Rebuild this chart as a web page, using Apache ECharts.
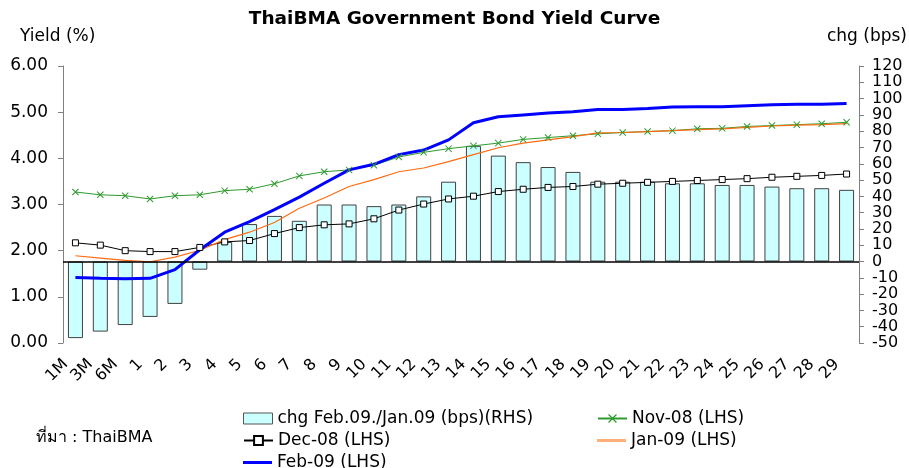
<!DOCTYPE html>
<html>
<head>
<meta charset="utf-8">
<script src="https://cdn.jsdelivr.net/npm/echarts@6/dist/echarts.min.js"></script>
<style>html,body{margin:0;padding:0;background:#fff;}#c{width:909px;height:468px;}</style>
</head>
<body>
<div id="c"></div>
<script>
var categories = ['1M','3M','6M','1','2','3','4','5','6','7','8','9','10','11','12','13','14','15','16','17','18','19','20','21','22','23','24','25','26','27','28','29'];
var chgBps = [-47,-43,-39,-34,-26,-5,12,23,28,25,35,35,34,35,40,49,71,65,61,58,55,49,49,49,48,48,47,47,46,45,45,44];
var nov08 = [3.27,3.21,3.19,3.12,3.19,3.21,3.30,3.33,3.45,3.62,3.71,3.75,3.85,4.03,4.13,4.21,4.27,4.33,4.41,4.45,4.49,4.53,4.56,4.58,4.60,4.64,4.65,4.69,4.71,4.73,4.75,4.78];
var dec08 = [2.17,2.12,2.00,1.98,1.98,2.07,2.19,2.22,2.37,2.50,2.56,2.58,2.69,2.88,3.01,3.12,3.18,3.28,3.33,3.37,3.39,3.44,3.46,3.48,3.50,3.52,3.54,3.56,3.59,3.61,3.63,3.66];
var jan09 = [1.89,1.84,1.79,1.76,1.86,2.01,2.24,2.40,2.61,2.92,3.14,3.39,3.54,3.71,3.79,3.93,4.08,4.23,4.33,4.40,4.47,4.55,4.56,4.58,4.60,4.62,4.64,4.67,4.70,4.72,4.73,4.75];
var feb09 = [1.42,1.40,1.39,1.40,1.59,2.02,2.40,2.63,2.89,3.16,3.46,3.75,3.87,4.08,4.18,4.40,4.77,4.90,4.94,4.98,5.01,5.06,5.06,5.08,5.11,5.12,5.12,5.14,5.16,5.17,5.17,5.19];
var leftTicks = {min: 0, max: 6, interval: 1};
var rightTicks = {min: -50, max: 120, interval: 10};

var FONT = 'DejaVu Sans';
var xMark = 'path://M0,1L1,0L5,4L9,0L10,1L6,5L10,9L9,10L5,6L1,10L0,9L4,5Z';
var names = {
  bar: 'chg Feb.09./Jan.09 (bps)(RHS)',
  nov: 'Nov-08 (LHS)', dec: 'Dec-08 (LHS)', jan: 'Jan-09 (LHS)', feb: 'Feb-09 (LHS)'
};
function lg(item, left, top, h) {
  return {data: [item], left: left, top: top, padding: 0, itemWidth: 29, itemHeight: h || 11, itemGap: 5,
    textStyle: {fontFamily: FONT, fontSize: 17, color: '#000'}};
}
var chart = echarts.init(document.getElementById('c'));
chart.setOption({
  animation: false,
  backgroundColor: '#fff',
  title: {text: 'ThaiBMA Government Bond Yield Curve', left: 'center', top: 10, padding: 0,
    textStyle: {fontFamily: FONT, fontWeight: 'bold', fontSize: 18.5, color: '#000'}},
  graphic: [
    {type: 'text', left: 20, top: 28, style: {text: 'Yield (%)', font: '17px "DejaVu Sans"', fill: '#000'}},
    {type: 'text', right: 2, top: 28, style: {text: 'chg (bps)', font: '17px "DejaVu Sans"', fill: '#000'}},
    {type: 'text', left: 36, top: 430, style: {text: 'ที่มา : ThaiBMA', font: '16px "DejaVu Sans", "Noto Sans", sans-serif', fill: '#000'}}
  ],
  legend: [
    lg({name: names.bar, icon: 'rect', itemStyle: {color: '#CCFFFF', borderColor: '#555', borderWidth: 1}}, 243, 410),
    lg({name: names.nov}, 597, 410),
    lg({name: names.dec}, 243, 432),
    lg({name: names.jan, icon: 'rect', itemStyle: {color: '#FFB07A', borderWidth: 0}}, 597, 432, 3),
    lg({name: names.feb, icon: 'rect', itemStyle: {color: '#0000FF', borderWidth: 0}}, 243, 454, 3)
  ],
  grid: {left: 63, right: 50, top: 66, bottom: 125},
  xAxis: {
    type: 'category', data: categories, boundaryGap: true,
    axisLine: {show: false}, axisTick: {show: false}, splitLine: {show: false},
    axisLabel: {rotate: 45, interval: 0, margin: 9,
      formatter: function (v) { return '{t|' + v + '}{s|}'; },
      rich: {t: {fontFamily: FONT, fontSize: 16, color: '#000'}, s: {width: 14}},
      fontFamily: FONT, fontSize: 16, color: '#000'}
  },
  yAxis: [
    {type: 'value', position: 'left', min: leftTicks.min, max: leftTicks.max, interval: leftTicks.interval,
      splitLine: {show: false},
      axisLine: {show: true, lineStyle: {color: '#808080', width: 1}},
      axisTick: {show: true, inside: false, length: 5, lineStyle: {color: '#808080'}},
      axisLabel: {margin: 15, showMinLabel: true, showMaxLabel: true,
        formatter: function (v) { return v.toFixed(2); },
        fontFamily: FONT, fontSize: 17, color: '#000'}},
    {type: 'value', position: 'right', min: rightTicks.min, max: rightTicks.max, interval: rightTicks.interval,
      splitLine: {show: false},
      axisLine: {show: true, lineStyle: {color: '#808080', width: 1}},
      axisTick: {show: true, inside: false, length: 5, lineStyle: {color: '#808080'}},
      axisLabel: {margin: 13, showMinLabel: true, showMaxLabel: true, hideOverlap: false,
        fontFamily: FONT, fontSize: 16, color: '#000'}}
  ],
  series: [
    {name: names.bar, type: 'bar', yAxisIndex: 1, data: chgBps, barWidth: 15,
      itemStyle: {color: '#CCFFFF', borderColor: '#404040', borderWidth: 1},
      markLine: {silent: true, symbol: 'none', label: {show: false},
        lineStyle: {color: '#000', width: 1.5, type: 'solid'}, data: [{yAxis: 0}]}},
    {name: names.nov, type: 'line', yAxisIndex: 0, data: nov08, symbol: xMark, symbolSize: 7,
      lineStyle: {color: '#2E9A2E', width: 1}, itemStyle: {color: '#2E9A2E'}},
    {name: names.dec, type: 'line', yAxisIndex: 0, data: dec08, symbol: 'rect', symbolSize: 6,
      lineStyle: {color: '#000', width: 1}, itemStyle: {color: '#fff', borderColor: '#000', borderWidth: 1}},
    {name: names.jan, type: 'line', yAxisIndex: 0, data: jan09, symbol: 'none',
      lineStyle: {color: '#FF6A10', width: 1.2}, itemStyle: {color: '#FF8A40'}},
    {name: names.feb, type: 'line', yAxisIndex: 0, data: feb09, symbol: 'none',
      lineStyle: {color: '#0000FF', width: 3}, itemStyle: {color: '#0000FF'}}
  ]
});
</script>
</body>
</html>
